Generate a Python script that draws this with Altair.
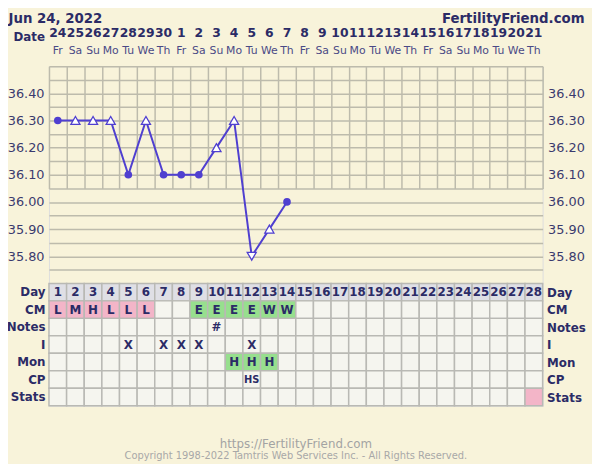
import altair as alt
import pandas as pd

# ---------------- data ----------------
temp_days = list(range(1, 15))
temps = [36.30, 36.30, 36.30, 36.30, 36.10, 36.30, 36.10, 36.10, 36.10, 36.20, 36.30, 35.80, 35.90, 36.00]
markers = ["circle", "up", "up", "up", "circle", "up", "circle", "circle", "circle", "up", "up", "down", "up", "circle"]

cycle_days = list(range(1, 29))
dates = [24, 25, 26, 27, 28, 29, 30] + list(range(1, 22))
weekdays = ["Fr", "Sa", "Su", "Mo", "Tu", "We", "Th"] * 4

rows = ["Day", "CM", "Notes", "I", "Mon", "CP", "Stats"]
cm_text = {1: "L", 2: "M", 3: "H", 4: "L", 5: "L", 6: "L", 9: "E", 10: "E", 11: "E", 12: "E", 13: "W", 14: "W"}
cm_fill = {1: "pink", 2: "pink", 3: "pink", 4: "pink", 5: "pink", 6: "pink",
           9: "green", 10: "green", 11: "green", 12: "green", 13: "green", 14: "green"}
notes_text = {10: "#"}
intercourse_days = [5, 7, 8, 9, 12]
mon_text = {11: "H", 12: "H", 13: "H"}
mon_fill = {11: "green", 12: "green", 13: "green"}
cp_text = {12: "HS"}
stats_fill = {28: "pink"}

temp_ticks = [35.70, 35.75, 35.80, 35.85, 35.90, 35.95, 36.00, 36.05, 36.10, 36.15,
              36.20, 36.25, 36.30, 36.35, 36.40, 36.45, 36.50]

# ---------------- tables ----------------
temp_df = pd.DataFrame({"day": temp_days, "temp": temps, "marker": markers})
head_df = pd.DataFrame({"day": cycle_days, "date": [str(d) for d in dates], "wd": weekdays})

recs = []
for r in rows:
    for d in cycle_days:
        txt, fill = "", "blank"
        if r == "Day":
            txt, fill = str(d), "day"
        elif r == "CM":
            txt, fill = cm_text.get(d, ""), cm_fill.get(d, "blank")
        elif r == "Notes":
            txt = notes_text.get(d, "")
        elif r == "I":
            txt = "X" if d in intercourse_days else ""
        elif r == "Mon":
            txt, fill = mon_text.get(d, ""), mon_fill.get(d, "blank")
        elif r == "CP":
            txt = cp_text.get(d, "")
        elif r == "Stats":
            fill = stats_fill.get(d, "blank")
        recs.append({"row": r, "day": d, "txt": txt, "fill": fill})
table_df = pd.DataFrame(recs)

# ---------------- style ----------------
BG = "#F8F3DA"
NAVY = "#2B2B66"
LINE = "#4F3FD0"
GRID = "#BDBBAC"
FONT = "DejaVu Sans"
W, H = 500, 344
TEMP_H = 220

xaxis = alt.Axis(values=[d - 0.5 for d in cycle_days] + [28.5], grid=True, gridColor=GRID,
                 gridWidth=1.5, labels=False, ticks=False, domain=False, title=None)
xscale = alt.Scale(domain=[0.5, 28.5], nice=False, zero=False)


def X(field):
    return alt.X(field, scale=xscale, axis=xaxis)


temp_scale = alt.Scale(domain=[35.70, 36.50], range=[TEMP_H, 0], nice=False, zero=False)
row_scale = alt.Scale(domain=rows, range=[TEMP_H, H], paddingInner=0, paddingOuter=0)

label_expr = ("(round(datum.value*100) % 10 == 0 && datum.value > 35.75 && datum.value < 36.45)"
              " ? format(datum.value, '.2f') : ''")


def temp_axis(orient, grid):
    return alt.Axis(orient=orient, values=temp_ticks, labelExpr=label_expr, grid=grid,
                    gridColor=GRID, gridWidth=1.5, ticks=False, domain=False, title=None,
                    labelFontSize=13, labelColor="#3A3A6E", labelPadding=5, labelFont=FONT)


def row_axis(orient):
    return alt.Axis(orient=orient, ticks=False, domain=False, title=None, labelFontSize=12,
                    labelFontWeight="bold", labelColor=NAVY, labelPadding=4, labelFont=FONT,
                    labelAlign="right" if orient == "left" else "left")


# temperature line (left axis + grid)
line = alt.Chart(temp_df).mark_line(color=LINE, strokeWidth=2).encode(
    x=X("day:Q"),
    y=alt.Y("temp:Q", scale=temp_scale, axis=temp_axis("left", True)),
)
circles = alt.Chart(temp_df).transform_filter("datum.marker == 'circle'").mark_point(
    filled=True, color=LINE, size=60, opacity=1, shape="circle").encode(
    x=X("day:Q"),
    y=alt.Y("temp:Q", scale=temp_scale, axis=temp_axis("right", False)),
)
tri = alt.Chart(temp_df).transform_filter("datum.marker != 'circle'").mark_point(
    filled=True, fill="white", stroke=LINE, strokeWidth=1.3, size=85, opacity=1).encode(
    x=X("day:Q"),
    y=alt.Y("temp:Q", scale=temp_scale, axis=None),
    shape=alt.Shape("marker:N", scale=alt.Scale(domain=["up", "down"], range=["triangle-up", "triangle-down"]),
                    legend=None),
)

# table
cells = alt.Chart(table_df).transform_calculate(x0="datum.day - 0.5", x1="datum.day + 0.5").mark_rect(
    stroke="#B9B9B4", strokeWidth=1.5).encode(
    x=X("x0:Q"), x2="x1:Q",
    y=alt.Y("row:N", scale=row_scale, axis=row_axis("left"), sort=rows),
    fill=alt.Fill("fill:N", scale=alt.Scale(domain=["day", "blank", "pink", "green"],
                                            range=["#DFDFE5", "#F5F5EF", "#F3B5C8", "#97DF8E"]),
                  legend=None),
)
cell_text = alt.Chart(table_df).transform_filter("datum.txt != '' && datum.txt != 'HS'").mark_text(
    font=FONT, fontSize=12, fontWeight="bold", color=NAVY).encode(
    x=X("day:Q"),
    y=alt.Y("row:N", scale=row_scale, axis=row_axis("right"), sort=rows),
    text="txt:N",
)
hs_text = alt.Chart(table_df).transform_filter("datum.txt == 'HS'").mark_text(
    font=FONT, fontSize=10, fontWeight="bold", color=NAVY).encode(
    x=X("day:Q"),
    y=alt.Y("row:N", scale=row_scale, axis=None, sort=rows),
    text="txt:N",
)

# header
date_nums = alt.Chart(head_df).mark_text(font=FONT, fontSize=12.5, fontWeight="bold", color=NAVY).encode(
    x=X("day:Q"), y=alt.value(-34), text="date:N")
wd_text = alt.Chart(head_df).mark_text(font=FONT, fontSize=11, color="#4A4A86").encode(
    x=X("day:Q"), y=alt.value(-15), text="wd:N")
date_lbl = alt.Chart(pd.DataFrame({"t": ["Date"]})).mark_text(
    font=FONT, fontSize=12, fontWeight="bold", color=NAVY, align="right").encode(
    x=alt.value(-4), y=alt.value(-29), text="t:N")
title_l = alt.Chart(pd.DataFrame({"t": ["Jun 24, 2022"]})).mark_text(
    font=FONT, fontSize=13.5, fontWeight="bold", color=NAVY, align="left").encode(
    x=alt.value(-41), y=alt.value(-48), text="t:N")
title_r = alt.Chart(pd.DataFrame({"t": ["FertilityFriend.com"]})).mark_text(
    font=FONT, fontSize=13.5, fontWeight="bold", color=NAVY, align="right").encode(
    x=alt.value(542.5), y=alt.value(-48), text="t:N")
foot1 = alt.Chart(pd.DataFrame({"t": ["https://FertilityFriend.com"]})).mark_text(
    font=FONT, fontSize=12, color="#A3A3A3", align="center").encode(
    x=alt.value(250), y=alt.value(H + 39), text="t:N")
foot2 = alt.Chart(pd.DataFrame({"t": ["Copyright 1998-2022 Tamtris Web Services Inc. - All Rights Reserved."]})).mark_text(
    font=FONT, fontSize=10, color="#A8A8A8", align="center").encode(
    x=alt.value(250), y=alt.value(H + 51), text="t:N")

chart = alt.layer(
    cells, cell_text, hs_text, line, tri, circles,
    date_nums, wd_text, date_lbl, title_l, title_r, foot1, foot2,
).resolve_scale(y="independent").properties(
    width=W, height=H,
    autosize=alt.AutoSizeParams(type="none"),
    padding={"left": 41.5, "top": 56, "right": 50, "bottom": 56},
    background=BG,
).configure_view(stroke=None, fill=BG).configure(font=FONT)

chart.save("out.html", embed_options={"renderer": "svg", "actions": False})
